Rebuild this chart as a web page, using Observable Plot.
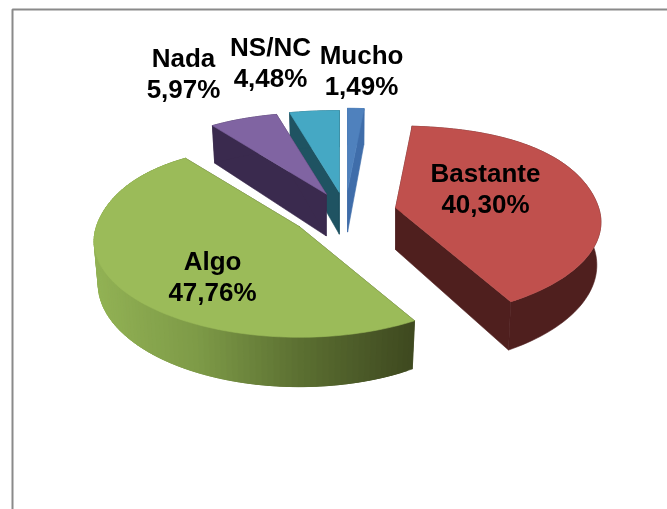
<!DOCTYPE html>
<html><head><meta charset="utf-8">
<script src="https://cdn.jsdelivr.net/npm/d3@7"></script>
<script src="https://cdn.jsdelivr.net/npm/@observablehq/plot@0.6"></script>
<style>html,body{margin:0;padding:0;background:#fff}svg{display:block;filter:blur(0.35px)}</style>
</head><body><div id="chart"></div>
<script>
const names = ["Mucho","Bastante","Algo","Nada","NS/NC"];
const values = [1.49,40.30,47.76,5.97,4.48];
const topColors = ["#4F81BD","#C0504D","#9BBB59","#8064A2","#45A8C4"];
const wallColors = ["#3F6DAA","#4F1F1E","#3F4A20","#3A2A4E","#1F5362"];
const labelX = [361,485,212,183,270];
const labelY = [69,187,275,72,61];
const drawOrder = [0,4,3,1,2];
const nudgeX = [0,2,0,1,0];
const nudgeY = [-1,1,1,1,1];

// Pie projection (perspective tilt, with a slight bulge on the far half)
const W=667,H=509,CX=345,CY=211,A=203,B=94,K=0.15,EXPLODE=0.25,DEPTH=42,BOTTOM=0.98,BULGE=0.03;
const total=d3.sum(values);
const proj=(deg,r=1,xs=1)=>{const t=deg*Math.PI/180,u=Math.sin(t),v=Math.cos(t),w=1+K*v;
  const b=v>0?1+BULGE*Math.sin(2*t)**2:1;
  return {dx:xs*A*r*b*u/w,dy:-B*r*b*v/w,w};};
let acc=0;
const slices=values.map((v,i)=>{const a0=acc/total*360;acc+=v;const a1=acc/total*360;
  const t=(a0+a1)/2*Math.PI/180,w=1+K*Math.cos(t);
  return {i,a0,a1,ax:CX+EXPLODE*A*Math.sin(t)/w+nudgeX[i],ay:CY-EXPLODE*B*Math.cos(t)/w+nudgeY[i]};});
const polys=[];let pid=0;
function add(pts,color){const id=pid++;pts.concat([pts[0]]).forEach(p=>polys.push({x:p[0],y:p[1],id,color}));}
const P=(s,deg)=>{const p=proj(deg);return [s.ax+p.dx,s.ay+p.dy];};
const Q=(s,deg)=>{const p=proj(deg,1,BOTTOM);return [s.ax+p.dx,s.ay+p.dy+DEPTH/p.w];};
const apexB=s=>[s.ax,s.ay+DEPTH];
const arcAngles=s=>{const n=Math.max(2,Math.ceil((s.a1-s.a0)/1.5));return d3.range(n+1).map(k=>s.a0+(s.a1-s.a0)*k/n);};
const algoRamp=d3.scaleLinear().domain([90,200,300,412]).range(["#93B355","#7D9A47","#5C7032","#3F4A20"]).interpolate(d3.interpolateRgb).clamp(true);
for(const idx of drawOrder){const s=slices[idx],apex=[s.ax,s.ay],wc=wallColors[idx];
  add([apex,P(s,s.a0),Q(s,s.a0),apexB(s)],wc);
  add([apex,P(s,s.a1),Q(s,s.a1),apexB(s)],wc);
  const as=arcAngles(s);
  if(names[idx]==="Algo"){
    for(let k=0;k<as.length-1;k++){const e=as[Math.min(k+3,as.length-1)];
      const a=P(s,as[k]),b=P(s,e),c=Q(s,e),d=Q(s,as[k]);
      add([a,b,c,d],algoRamp(a[0]));}
  } else {
    add([...as.map(t=>P(s,t)),...as.slice().reverse().map(t=>Q(s,t))],wc);
  }
  add([apex,...as.map(t=>P(s,t))],topColors[idx]);
}
const fmt=v=>v.toFixed(2).replace(".",",")+"%";
const labels=names.map((n,i)=>({t:n+"\n"+fmt(values[i]),x:labelX[i],y:labelY[i]}));
const frame=[{x:12,y:H},{x:12,y:9},{x:W,y:9}];
const chart=Plot.plot({width:W,height:H,margin:0,
  x:{domain:[0,W],range:[0,W],axis:null},y:{domain:[0,H],range:[0,H],axis:null},
  color:{type:"identity"},
  marks:[
    Plot.line(frame,{x:"x",y:"y",stroke:"#8A8A8A",strokeWidth:2,curve:"linear",strokeLinejoin:"miter"}),
    Plot.line(polys,{x:"x",y:"y",z:"id",fill:"color",stroke:"color",strokeWidth:0.6,curve:"linear"}),
    Plot.text(labels,{x:"x",y:"y",text:"t",fontFamily:"Liberation Sans",fontWeight:"bold",fontSize:26,lineHeight:1.2,fill:"#000"})
  ]});
document.getElementById("chart").append(chart);
</script></body></html>
